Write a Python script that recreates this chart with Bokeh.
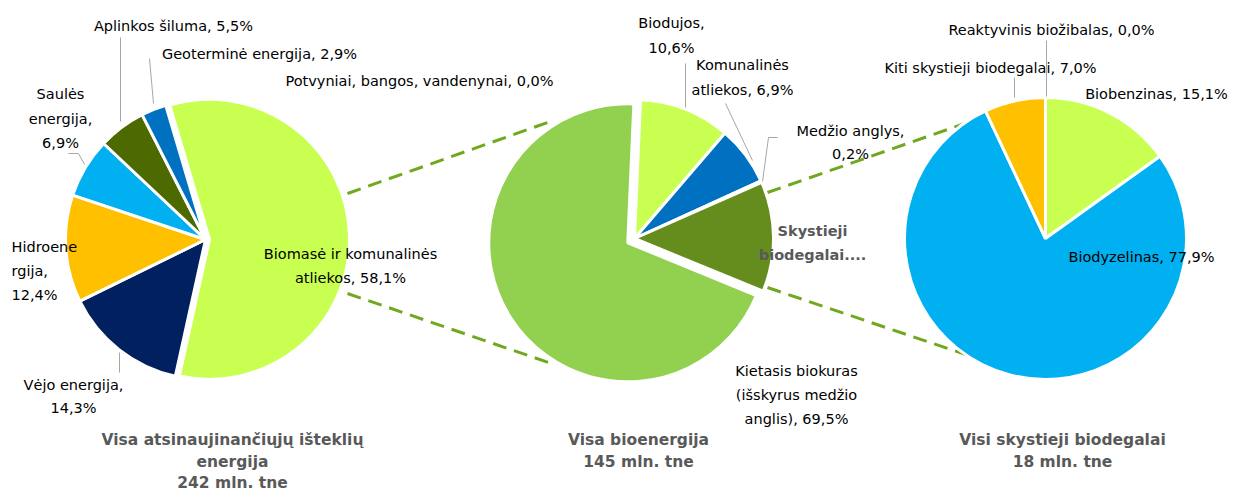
import math
from bokeh.plotting import figure
from bokeh.models import Range1d, ColumnDataSource
from bokeh.core.properties import value
from bokeh.embed import file_html
from bokeh.resources import INLINE

# ---------------- data ----------------
re_labels = ["Biomasė ir komunalinės atliekos", "Vėjo energija", "Hidroenergija",
             "Saulės energija", "Aplinkos šiluma", "Geoterminė energija",
             "Potvyniai, bangos, vandenynai"]
re_values = [58.1, 14.3, 12.4, 6.9, 5.5, 2.9, 0.0]

bio_labels = ["Biodujos", "Komunalinės atliekos", "Medžio anglys",
              "Skystieji biodegalai", "Kietasis biokuras (išskyrus medžio anglis)"]
bio_values = [10.6, 6.9, 0.2, 12.8, 69.5]

liq_labels = ["Biobenzinas", "Biodyzelinas", "Kiti skystieji biodegalai", "Reaktyvinis biožibalas"]
liq_values = [15.1, 77.9, 7.0, 0.0]

titles = [["Visa atsinaujinančiųjų išteklių", "energija", "242 mln. tne"],
          ["Visa bioenergija", "145 mln. tne"],
          ["Visi skystieji biodegalai", "18 mln. tne"]]

re_colors = ["#C8FF50", "#002060", "#FFC000", "#00B0F0", "#4C6A00", "#0070C0", "#7F7F7F"]
bio_colors = ["#C8FF50", "#0070C0", "#404040", "#658D1E", "#92D050"]
liq_colors = ["#C8FF50", "#00B0F0", "#FFC000", "#7F7F7F"]


def pct(v):
    return f"{v:.1f}".replace(".", ",") + "%"


W, H = 1238, 491
p = figure(width=W, height=H, x_range=Range1d(0, W), y_range=Range1d(0, H),
           output_backend="svg", toolbar_location=None, min_border=0,
           x_axis_type=None, y_axis_type=None)
p.grid.visible = False
p.outline_line_color = None
p.background_fill_color = "white"
p.border_fill_color = "white"


def Y(sy):
    return H - sy


# ---------------- connector dashed lines (under pies) ----------------
dash_col = "#70A820"
for (x0, y0, x1, y1) in [(347, 193, 547, 122), (347, 293, 548, 362),
                         (767, 192, 967, 122), (767, 287, 968, 355)]:
    p.line([x0, x1], [Y(y0), Y(y1)], line_color=dash_col, line_width=3, line_dash="14 8")


def draw_pie(cx, cy, r, values, colors, start_deg, explode):
    total = sum(values)
    theta = start_deg
    xs, ys, ss, es, cs = [], [], [], [], []
    for v, c, e in zip(values, colors, explode):
        span = 360.0 * v / total
        if v > 0:
            mid = math.radians(theta + span / 2)
            xs.append(cx + e * math.sin(mid))
            ys.append(Y(cy) + e * math.cos(mid))
            ss.append(math.radians(90 - (theta + span)))
            es.append(math.radians(90 - theta))
            cs.append(c)
        theta += span
    src = ColumnDataSource(dict(x=xs, y=ys, s=ss, e=es, c=cs))
    p.wedge(x="x", y="y", radius=r, start_angle="s", end_angle="e", fill_color="c",
            line_color="white", line_width=3, source=src)


draw_pie(205, 239, 140, re_values, re_colors, -16.5, [4, 0, 0, 0, 0, 0, 0])
draw_pie(634, 238, 139, bio_values, bio_colors, 2.5, [0, 0, 0, 0, 8])
draw_pie(1045, 238, 141, liq_values, liq_colors, 0.0, [0, 0, 0, 0])

# ---------------- leader lines ----------------
lead_col = "#A6A6A6"
leaders = [
    [(120, 37), (120, 121)],
    [(149, 58), (153, 103)],
    [(68, 153), (78, 153), (84, 164)],
    [(119, 352), (119, 372)],
    [(685, 63), (685, 107)],
    [(725, 103), (752, 160)],
    [(777, 137), (768, 137), (762, 181)],
    [(1046, 40), (1046, 96)],
    [(1014, 77), (1014, 97)],
]
for seg in leaders:
    p.line([a for a, b in seg], [Y(b) for a, b in seg], line_color=lead_col, line_width=1)


# ---------------- text ----------------
LFONT = "DejaVu Sans"
LSIZE = "14.5px"


def label(x, ys, lines, align="center", font=LFONT, size=LSIZE, color="#000000", bold=False):
    for yy, ln in zip(ys, lines):
        p.text(x=[x], y=[Y(yy)], text=[ln], text_align=align, text_baseline="middle",
               text_font=value(font), text_font_size=size, text_color=color,
               text_font_style="bold" if bold else "normal")


# pie 1
label(173, [25], [f"{re_labels[4]}, {pct(re_values[4])}"])
label(259, [53], [f"{re_labels[5]}, {pct(re_values[5])}"])
label(419, [80], [f"{re_labels[6]}, {pct(re_values[6])}"])
label(60, [93, 118, 142], ["Saulės", "energija,", pct(re_values[3])])
label(11, [246, 270, 294], ["Hidroene", "rgija,", pct(re_values[2])], align="left")
label(73, [384, 407], [f"{re_labels[1]},", pct(re_values[1])])
label(350, [253, 277], ["Biomasė ir komunalinės", f"atliekos, {pct(re_values[0])}"])

# pie 2
label(671, [22, 47], [f"{bio_labels[0]},", pct(bio_values[0])])
label(742, [64, 89], ["Komunalinės", f"atliekos, {pct(bio_values[1])}"])
label(850, [130, 153], [f"{bio_labels[2]},", pct(bio_values[2])])
label(812, [230, 254], ["Skystieji", "biodegalai...."], color="#595959", bold=True)
label(796, [370, 394, 418], ["Kietasis biokuras", "(išskyrus medžio", f"anglis), {pct(bio_values[4])}"])

# pie 3
label(1051, [29], [f"{liq_labels[3]}, {pct(liq_values[3])}"])
label(990, [67], [f"{liq_labels[2]}, {pct(liq_values[2])}"])
label(1156, [93], [f"{liq_labels[0]}, {pct(liq_values[0])}"])
label(1141, [256], [f"{liq_labels[1]}, {pct(liq_values[1])}"])

# titles
tfont = "DejaVu Sans"
label(232, [439, 461, 482], titles[0], font=tfont, size="15.5px", color="#595959", bold=True)
label(638, [439, 461], titles[1], font=tfont, size="15.5px", color="#595959", bold=True)
label(1062, [439, 461], titles[2], font=tfont, size="15.5px", color="#595959", bold=True)

open("out.html", "w").write(file_html(p, INLINE))
